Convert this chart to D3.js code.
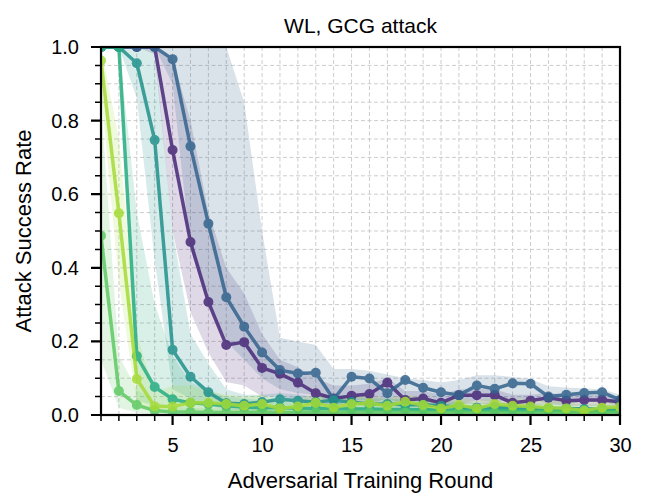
<!DOCTYPE html>
<html><head><meta charset="utf-8">
<script src="https://cdn.jsdelivr.net/npm/d3@7"></script>
<style>body{margin:0;background:#fff}svg{display:block}text{font-family:"Liberation Sans",Arial,sans-serif;fill:#000}</style>
</head><body><svg id="c" width="646" height="497"></svg>
<script>
const rounds = d3.range(1, 31);
const xTicks = [5, 10, 15, 20, 25, 30];
const yTicks = [0, 0.2, 0.4, 0.6, 0.8, 1.0];
const titleText = "WL, GCG attack";
const xLabel = "Adversarial Training Round";
const yLabel = "Attack Success Rate";

const colors = ["#482878", "#33638d", "#21918c", "#27ad81", "#5ec962", "#a5db36"];

const purpleMean = [1,1,1,1,0.72,0.47,0.307,0.19,0.198,0.128,0.112,0.088,0.059,0.045,0.052,0.057,0.088,0.041,0.045,0.033,0.054,0.054,0.054,0.033,0.039,0.047,0.039,0.041,0.041,0.036];
const purpleHi   = [1,1,1,1,0.97,0.8,0.55,0.4,0.33,0.22,0.15,0.13,0.1,0.08,0.08,0.085,0.1,0.065,0.065,0.055,0.07,0.07,0.07,0.055,0.055,0.06,0.055,0.055,0.055,0.05];
const purpleLo   = [1,1,1,0.98,0.5,0.28,0.17,0.09,0.08,0.05,0.05,0.04,0.03,0.025,0.03,0.03,0.045,0.025,0.025,0.02,0.03,0.03,0.03,0.02,0.025,0.03,0.025,0.025,0.025,0.02];

const blueMean = [1,1,1,1,0.967,0.73,0.52,0.32,0.24,0.17,0.122,0.113,0.115,0.043,0.104,0.099,0.059,0.095,0.074,0.062,0.054,0.08,0.071,0.086,0.085,0.05,0.055,0.06,0.062,0.041];
const blueHi   = [1,1,1,1,1,1,1,1,0.85,0.5,0.21,0.2,0.19,0.125,0.125,0.12,0.11,0.1,0.095,0.088,0.095,0.108,0.108,0.103,0.098,0.078,0.075,0.072,0.07,0.055];
const blueLo   = [1,1,1,1,0.9,0.45,0.3,0.2,0.15,0.1,0.07,0.06,0.055,0.025,0.04,0.04,0.03,0.04,0.035,0.03,0.03,0.04,0.035,0.04,0.045,0.03,0.03,0.035,0.035,0.025];

const tealMean = [1,1,0.956,0.747,0.177,0.104,0.062,0.032,0.03,0.035,0.043,0.039,0.035,0.04,0.035,0.03,0.03,0.028,0.028,0.025,0.022,0.02,0.022,0.02,0.02,0.018,0.018,0.016,0.016,0.015];
const tealHi   = [1,1,1,1,0.5,0.22,0.14,0.07,0.055,0.055,0.06,0.055,0.05,0.055,0.05,0.045,0.045,0.042,0.042,0.038,0.035,0.033,0.035,0.032,0.032,0.03,0.03,0.028,0.028,0.026];
const tealLo   = [1,1,0.86,0.42,0.07,0.045,0.025,0.015,0.012,0.015,0.022,0.02,0.018,0.02,0.018,0.015,0.015,0.014,0.014,0.012,0.01,0.01,0.01,0.01,0.01,0.008,0.008,0.007,0.007,0.006];

const tgreenMean = [1,1,0.16,0.076,0.043,0.033,0.03,0.025,0.022,0.02,0.02,0.018,0.018,0.017,0.016,0.016,0.015,0.015,0.014,0.014,0.013,0.013,0.013,0.012,0.012,0.012,0.011,0.011,0.011,0.01];
const tgreenHi   = [1,1,0.55,0.3,0.16,0.09,0.065,0.05,0.045,0.04,0.038,0.035,0.034,0.032,0.03,0.03,0.028,0.028,0.026,0.026,0.025,0.025,0.024,0.023,0.023,0.022,0.021,0.021,0.02,0.02];
const tgreenLo   = [1,1,0.04,0.025,0.015,0.012,0.01,0.008,0.007,0.006,0.006,0.005,0.005,0.005,0.005,0.005,0.004,0.004,0.004,0.004,0.004,0.004,0.004,0.003,0.003,0.003,0.003,0.003,0.003,0.003];

const greenMean = [0.487,0.065,0.027,0.012,0.008,0.008,0.007,0.007,0.007,0.008,0.007,0.007,0.008,0.007,0.007,0.007,0.008,0.007,0.007,0.007,0.008,0.007,0.007,0.007,0.007,0.008,0.007,0.007,0.007,0.008];
const greenHi   = [0.85,0.16,0.07,0.035,0.022,0.02,0.018,0.018,0.018,0.019,0.018,0.018,0.019,0.018,0.018,0.018,0.019,0.018,0.018,0.018,0.019,0.018,0.018,0.018,0.018,0.019,0.018,0.018,0.018,0.019];
const greenLo   = [0.15,0.02,0.006,0.002,0.001,0.001,0.001,0.001,0.001,0.001,0.001,0.001,0.001,0.001,0.001,0.001,0.001,0.001,0.001,0.001,0.001,0.001,0.001,0.001,0.001,0.001,0.001,0.001,0.001,0.001];

const lgreenMean = [0.963,0.548,0.098,0.023,0.023,0.033,0.033,0.03,0.025,0.03,0.018,0.023,0.033,0.02,0.03,0.032,0.025,0.036,0.027,0.018,0.027,0.018,0.03,0.025,0.023,0.02,0.018,0.012,0.02,0.022];
const lgreenHi   = [1,0.75,0.22,0.06,0.08,0.08,0.065,0.055,0.05,0.055,0.04,0.045,0.055,0.042,0.05,0.052,0.045,0.055,0.048,0.038,0.047,0.038,0.05,0.045,0.043,0.04,0.038,0.03,0.04,0.042];
const lgreenLo   = [0.88,0.36,0.03,0.008,0.008,0.012,0.012,0.01,0.008,0.01,0.005,0.007,0.012,0.006,0.01,0.011,0.008,0.013,0.009,0.005,0.009,0.005,0.01,0.008,0.007,0.006,0.005,0.003,0.006,0.007];

const series = [
  {mean: purpleMean, lo: purpleLo, hi: purpleHi, color: colors[0]},
  {mean: blueMean, lo: blueLo, hi: blueHi, color: colors[1]},
  {mean: tealMean, lo: tealLo, hi: tealHi, color: colors[2]},
  {mean: tgreenMean, lo: tgreenLo, hi: tgreenHi, color: colors[3]},
  {mean: greenMean, lo: greenLo, hi: greenHi, color: colors[4]},
  {mean: lgreenMean, lo: lgreenLo, hi: lgreenHi, color: colors[5]}
];

const L = 101, R = 620, T = 47, B = 415;
const svg = d3.select("#c");
const x = d3.scaleLinear().domain([1, 30]).range([L, R]);
const y = d3.scaleLinear().domain([0, 1]).range([B, T]);

svg.append("defs").append("clipPath").attr("id", "clip")
  .append("rect").attr("x", L).attr("y", T).attr("width", R - L).attr("height", B - T);

// grid
const grid = svg.append("g");
grid.selectAll("line.v").data(d3.range(2, 30)).join("line")
  .attr("x1", d => x(d)).attr("x2", d => x(d)).attr("y1", T).attr("y2", B)
  .attr("stroke", "#cccccc").attr("stroke-width", 1).attr("stroke-dasharray", "4,2.5");
grid.selectAll("line.h").data(d3.range(1, 20).map(i => i * 0.05)).join("line")
  .attr("y1", d => y(d)).attr("y2", d => y(d)).attr("x1", L).attr("x2", R)
  .attr("stroke", "#cccccc").attr("stroke-width", 1).attr("stroke-dasharray", "4,2.5");

const plot = svg.append("g").attr("clip-path", "url(#clip)");
const area = d3.area().x((d, i) => x(rounds[i])).y0(d => y(d[0])).y1(d => y(d[1]));
const line = d3.line().x((d, i) => x(rounds[i])).y(d => y(d));

series.forEach(s => {
  plot.append("path").datum(s.lo.map((v, i) => [v, s.hi[i]]))
    .attr("d", area).attr("fill", s.color).attr("fill-opacity", 0.18).attr("stroke", "none");
});
series.forEach(s => {
  const g = plot.append("g").attr("opacity", 0.85);
  g.append("path").datum(s.mean).attr("d", line).attr("fill", "none")
    .attr("stroke", s.color).attr("stroke-width", 3.5).attr("stroke-linejoin", "round");
  g.selectAll("circle").data(s.mean).join("circle")
    .attr("cx", (d, i) => x(rounds[i])).attr("cy", d => y(d)).attr("r", 5)
    .attr("fill", s.color);
});

// ticks: single path built from the scales
const xMinorV = rounds.filter(r => r % 5 !== 0);
const yMinorV = d3.range(0, 21).filter(i => i % 4 !== 0).map(i => i * 0.05);
const majorPath = d3.path();
xTicks.forEach(v => { majorPath.moveTo(x(v), B); majorPath.lineTo(x(v), B + 10); });
yTicks.forEach(v => { majorPath.moveTo(L, y(v)); majorPath.lineTo(L - 10, y(v)); });
const minorPath = d3.path();
xMinorV.forEach(v => { minorPath.moveTo(x(v), B); minorPath.lineTo(x(v), B + 6); });
yMinorV.forEach(v => { minorPath.moveTo(L, y(v)); minorPath.lineTo(L - 6, y(v)); });
svg.append("path").attr("d", majorPath.toString()).attr("fill", "none")
  .attr("stroke", "#000").attr("stroke-width", 2.2);
svg.append("path").attr("d", minorPath.toString()).attr("fill", "none")
  .attr("stroke", "#000").attr("stroke-width", 1.5);

const xAxis = svg.append("g").attr("transform", `translate(0,${B})`)
  .call(d3.axisBottom(x).tickValues(xTicks).tickSize(10).tickPadding(13).tickFormat(d3.format("d")));
const yAxis = svg.append("g").attr("transform", `translate(${L},0)`)
  .call(d3.axisLeft(y).tickValues(yTicks).tickSize(10).tickPadding(12).tickFormat(d3.format(".1f")));
[xAxis, yAxis].forEach(a => {
  a.select(".domain").remove();
  a.selectAll(".tick line").remove();
  a.selectAll("text").attr("font-size", 20).attr("fill", "#000")
    .attr("font-family", "Liberation Sans, Arial, sans-serif");
});

svg.append("rect").attr("x", L).attr("y", T).attr("width", R - L).attr("height", B - T)
  .attr("fill", "none").attr("stroke", "#000").attr("stroke-width", 2.2);

svg.append("text").attr("x", (L + R) / 2).attr("y", 33).attr("text-anchor", "middle")
  .attr("font-size", 21).text(titleText);
svg.append("text").attr("x", (L + R) / 2).attr("y", 488).attr("text-anchor", "middle")
  .attr("font-size", 22).text(xLabel);
svg.append("text").attr("transform", `translate(31,${(T + B) / 2}) rotate(-90)`)
  .attr("text-anchor", "middle").attr("font-size", 22).text(yLabel);
</script></body></html>
